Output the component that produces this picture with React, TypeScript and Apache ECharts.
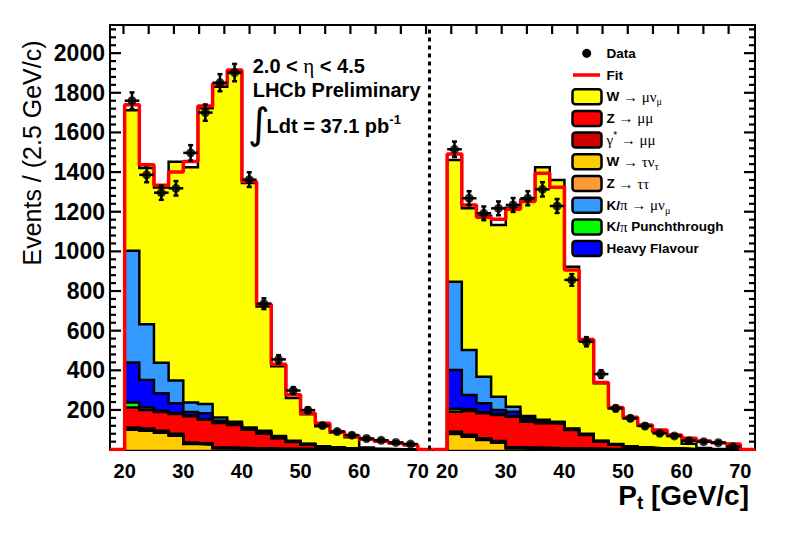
import React, { useEffect, useRef } from "react";
import * as echarts from "echarts";

// ---------------- binning / axes ----------------
const BIN_START = 20; // GeV/c
const BIN_WIDTH = 2.5; // GeV/c
const FIT_START = 17.5;
const FIT_END = 72.5;
const RIGHT_SHIFT = 55; // the right panel is drawn after the left one on a shared axis
const DIVIDER_AT = 72;
const X_MIN = 17.5;
const X_MAX = 127.5;
const Y_MAX = 2142;
const Y_STEP = 200;
const Y_MINOR_STEP = 40;
const X_TICK_LABELS = [20, 30, 40, 50, 60, 70];
const TOP_TICK_FIRST = 19.8;
const TOP_TICK_STEP = 4.3;
const TOP_TICK_COUNT = 25;

// plot frame (layout)
const GRID_LEFT = 110;
const GRID_TOP = 25;
const GRID_W = 645;
const GRID_H = 424.6;

// ---------------- left panel (stack components, bins 20..70 GeV/c) ----------------
const L_W_TAUNU = [100, 95, 85, 70, 28, 25, 5, 4, 3, 3, 2, 2, 1, 1, 1, 0, 0, 0, 0, 0];
const L_Z_TAUTAU = [6, 6, 5, 5, 4, 4, 3, 3, 2, 2, 1, 1, 1, 0, 0, 0, 0, 0, 0, 0];
const L_GAMMA_MUMU = [6, 5, 5, 5, 4, 3, 3, 2, 2, 2, 1, 1, 1, 0, 0, 0, 0, 0, 0, 0];
const L_Z_MUMU = [100, 94, 95, 100, 132, 118, 123, 115, 93, 73, 53, 34, 22, 12, 8, 5, 2, 1, 1, 0];
const L_PUNCH = [25, 12, 6, 5, 4, 4, 3, 3, 2, 2, 2, 1, 1, 1, 0, 0, 0, 0, 0, 0];
const L_HEAVY = [203, 139, 88, 49, 18, 29, 8, 5, 4, 6, 4, 3, 2, 1, 1, 1, 0, 0, 0, 0];
const L_KPI_MUNU = [563, 281, 154, 114, 48, 47, 17, 8, 6, 7, 5, 3, 2, 2, 1, 1, 1, 1, 0, 0];
const L_W_MUNU = [709, 788, 884, 1104, 1186, 1492, 1668, 1760, 1233, 627, 352, 215, 148, 101, 75, 55, 8, 2, 1, 1];
const L_FIT = [1740, 1437, 1333, 1400, 1453, 1734, 1845, 1915, 1352, 733, 430, 277, 184, 133, 90, 69, 52, 42, 32, 23];
const L_DATA = [1760, 1386, 1296, 1318, 1497, 1700, 1851, 1902, 1362, 736, 455, 298, 199, 121, 91, 73, 56, 47, 36, 28];

// ---------------- right panel ----------------
const R_W_TAUNU = [79, 65, 48, 35, 5, 4, 3, 3, 2, 2, 1, 1, 1, 0, 0, 0, 0, 0, 0, 0];
const R_Z_TAUTAU = [6, 5, 5, 4, 4, 3, 3, 2, 2, 2, 1, 1, 1, 0, 0, 0, 0, 0, 0, 0];
const R_GAMMA_MUMU = [5, 5, 4, 4, 3, 3, 3, 2, 2, 2, 1, 1, 0, 0, 0, 0, 0, 0, 0, 0];
const R_Z_MUMU = [101, 120, 126, 132, 154, 131, 124, 123, 93, 68, 37, 22, 13, 9, 6, 4, 2, 1, 1, 0];
const R_PUNCH = [15, 8, 5, 4, 3, 3, 2, 2, 2, 1, 1, 1, 0, 0, 0, 0, 0, 0, 0, 0];
const R_HEAVY = [196, 72, 46, 21, 22, 16, 10, 6, 3, 3, 2, 1, 1, 1, 0, 0, 0, 0, 0, 0];
const R_KPI_MUNU = [445, 228, 134, 67, 25, 10, 5, 3, 2, 2, 2, 1, 1, 1, 1, 1, 0, 0, 0, 0];
const R_W_MUNU = [614, 714, 812, 866, 1004, 1090, 1274, 1219, 817, 470, 290, 180, 141, 109, 85, 63, 28, 7, 2, 1];
const R_FIT = [1491, 1234, 1172, 1162, 1212, 1251, 1394, 1323, 906, 556, 338, 213, 163, 124, 99, 74, 57, 43, 35, 28];
const R_DATA = [1515, 1268, 1192, 1217, 1234, 1268, 1313, 1229, 856, 544, 381, 208, 158, 119, 82, 69, 45, 40, 35, 15];

// ---------------- legend ----------------
const LEGEND_LABELS = [
  "{b|W }{g|\u2192 \u03bc\u03bd}{sub|\u03bc}",
  "{b|Z }{g|\u2192 \u03bc\u03bc}",
  "{g|\u03b3}{sup|*}{g| \u2192 \u03bc\u03bc}",
  "{b|W }{g|\u2192 \u03c4\u03bd}{sub|\u03c4}",
  "{b|Z }{g|\u2192 \u03c4\u03c4}",
  "{b|K/}{g|\u03c0 \u2192 \u03bc\u03bd}{sub|\u03bc}",
  "{b|K/}{g|\u03c0}{b| Punchthrough}",
  "{b|Heavy Flavour}",
];

const SANS = "Liberation Sans, Arial, Helvetica, sans-serif";
const SERIF = "Liberation Serif, DejaVu Serif, serif";

// stacking order, bottom first
const COMPONENTS = [
  { color: "#ffcc00", left: L_W_TAUNU, right: R_W_TAUNU, legend: 3 },
  { color: "#ff9933", left: L_Z_TAUTAU, right: R_Z_TAUTAU, legend: 4 },
  { color: "#cc0000", left: L_GAMMA_MUMU, right: R_GAMMA_MUMU, legend: 2 },
  { color: "#ff0000", left: L_Z_MUMU, right: R_Z_MUMU, legend: 1 },
  { color: "#00ff00", left: L_PUNCH, right: R_PUNCH, legend: 6 },
  { color: "#0000ff", left: L_HEAVY, right: R_HEAVY, legend: 7 },
  { color: "#3399ff", left: L_KPI_MUNU, right: R_KPI_MUNU, legend: 5 },
  { color: "#ffff00", left: L_W_MUNU, right: R_W_MUNU, legend: 0 },
];

function cumulative(which: "left" | "right") {
  const out: number[][] = [];
  COMPONENTS.forEach((c, k) => {
    const arr = c[which].map((v: number, i: number) => v + (k > 0 ? out[k - 1][i] : 0));
    out.push(arr);
  });
  return out;
}

function histPoints(vals: number[], shift: number) {
  const pts: number[][] = [[BIN_START + shift, 0]];
  vals.forEach((v, i) => pts.push([BIN_START + BIN_WIDTH * i + shift, v]));
  const end = BIN_START + BIN_WIDTH * vals.length + shift;
  pts.push([end, vals[vals.length - 1]]);
  pts.push([end, 0]);
  return pts;
}

function fitPoints(vals: number[], shift: number) {
  const pts: number[][] = [[FIT_START + shift, 0]];
  vals.forEach((v, i) => pts.push([BIN_START + BIN_WIDTH * i + shift, v]));
  pts.push([BIN_START + BIN_WIDTH * vals.length + shift, 0]);
  pts.push([FIT_END + shift, 0]);
  return pts;
}

function dataPoints(vals: number[], shift: number) {
  return vals.map((v, i) => [BIN_START + BIN_WIDTH * (i + 0.5) + shift, v, Math.sqrt(v)]);
}

// inward frame ticks on the left, right and top edges, as small filled bars
function frameTickGraphics() {
  const px = (x: number) => GRID_LEFT + ((x - X_MIN) / (X_MAX - X_MIN)) * GRID_W;
  const py = (y: number) => GRID_TOP + GRID_H - (y / Y_MAX) * GRID_H;
  const out: any[] = [];
  const T = 2.2;
  for (let v = Y_MINOR_STEP; v <= Y_MAX; v += Y_MINOR_STEP) {
    const len = v % Y_STEP === 0 ? 11 : 6;
    const y = py(v);
    out.push({ type: "rect", z: 50, shape: { x: GRID_LEFT, y: y - T / 2, width: len, height: T }, style: { fill: "#000" } });
    out.push({ type: "rect", z: 50, shape: { x: GRID_LEFT + GRID_W - len, y: y - T / 2, width: len, height: T }, style: { fill: "#000" } });
  }
  for (let k = 0; k < TOP_TICK_COUNT; k++) {
    const x = px(TOP_TICK_FIRST + TOP_TICK_STEP * k);
    out.push({ type: "rect", z: 50, shape: { x: x - T / 2, y: GRID_TOP, width: T, height: 9 }, style: { fill: "#000" } });
  }
  return out;
}

function baseGraphic() {
  const legendRich = {
    b: { fontFamily: SANS, fontWeight: "bold", fontSize: 13.5, fill: "#000", color: "#000", lineHeight: 20 },
    g: { fontFamily: SERIF, fontSize: 15, fill: "#000", color: "#000", lineHeight: 20 },
    sub: { fontFamily: SERIF, fontSize: 10, fill: "#000", color: "#000", lineHeight: 10, verticalAlign: "bottom" },
    sup: { fontFamily: SANS, fontSize: 10, fill: "#000", color: "#000", lineHeight: 10, verticalAlign: "top" },
  };
  const LEG_X_BOX = 572.5;
  const LEG_X_TEXT = 606.5;
  const LEG_Y0 = 96.7;
  const LEG_DY = 21.7;

  const graphic: any[] = [
    { type: "circle", shape: { cx: 586.7, cy: 53.3, r: 4.5 }, style: { fill: "#000" }, z: 10 },
    {
      type: "text",
      x: LEG_X_TEXT,
      y: 53.3,
      z: 10,
      style: { text: "Data", fill: "#000", fontFamily: SANS, fontWeight: "bold", fontSize: 13.5, align: "left", verticalAlign: "middle" },
    },
    { type: "line", shape: { x1: 573, y1: 75, x2: 600, y2: 75 }, style: { stroke: "#ff0000", lineWidth: 3.5 }, z: 10 },
    {
      type: "text",
      x: LEG_X_TEXT,
      y: 75,
      z: 10,
      style: { text: "Fit", fill: "#000", fontFamily: SANS, fontWeight: "bold", fontSize: 13.5, align: "left", verticalAlign: "middle" },
    },
  ];
  COMPONENTS.forEach((c) => {
    const cy = LEG_Y0 + LEG_DY * c.legend;
    graphic.push({
      type: "rect",
      z: 10,
      shape: { x: LEG_X_BOX, y: cy - 7.5, width: 29, height: 15, r: 3 },
      style: { fill: c.color, stroke: "#000", lineWidth: 2.5 },
    });
    graphic.push({
      type: "text",
      z: 10,
      x: LEG_X_TEXT,
      y: cy,
      style: {
        text: LEGEND_LABELS[c.legend],
        rich: legendRich,
        fill: "#000",
        fontFamily: SANS,
        fontWeight: "bold",
        fontSize: 13.5,
        align: "left",
        verticalAlign: "middle",
      },
    });
  });

  const annRich = {
    b: { fontFamily: SANS, fontWeight: "bold", fontSize: 20, fill: "#000", color: "#000", lineHeight: 26 },
    g: { fontFamily: SERIF, fontSize: 21, fill: "#000", color: "#000", lineHeight: 26 },
    sup: { fontFamily: SANS, fontWeight: "bold", fontSize: 13, fill: "#000", color: "#000", lineHeight: 13, verticalAlign: "top" },
    sub: { fontFamily: SANS, fontWeight: "bold", fontSize: 19, fill: "#000", color: "#000", lineHeight: 19, verticalAlign: "bottom" },
    bx: { fontFamily: SANS, fontWeight: "bold", fontSize: 28, fill: "#000", color: "#000", lineHeight: 34 },
  };

  graphic.push(
    {
      type: "text",
      x: 252.7,
      y: 66,
      z: 10,
      style: { text: "{b|2.0 < }{g|\u03b7}{b| < 4.5}", rich: annRich, align: "left", verticalAlign: "middle", fill: "#000" },
    },
    {
      type: "text",
      x: 252.7,
      y: 90,
      z: 10,
      style: { text: "LHCb Preliminary", fill: "#000", fontFamily: SANS, fontWeight: "bold", fontSize: 20, align: "left", verticalAlign: "middle" },
    },
    {
      type: "text",
      x: 248,
      y: 123,
      z: 10,
      style: { text: "\u222b", fill: "#000", fontFamily: "DejaVu Sans", fontSize: 42, align: "left", verticalAlign: "middle" },
    },
    {
      type: "text",
      x: 266.5,
      y: 126,
      z: 10,
      style: { text: "{b|Ldt = 37.1 pb}{sup|-1}", rich: annRich, align: "left", verticalAlign: "middle", fill: "#000" },
    },
    {
      type: "text",
      x: 32,
      y: 153,
      rotation: Math.PI / 2,
      z: 10,
      style: { text: "Events / (2.5 GeV/c)", fill: "#000", fontFamily: SANS, fontSize: 25, align: "center", verticalAlign: "middle" },
    },
    {
      type: "text",
      x: 749,
      y: 495,
      z: 10,
      style: { text: "{bx|P}{sub|t}{bx| [GeV/c]}", rich: annRich, align: "right", verticalAlign: "middle", fill: "#000" },
    }
  );
  return [...graphic, ...frameTickGraphics()];
}

function buildOption() {
  const series: any[] = [];
  const panels: Array<["left" | "right", number]> = [
    ["left", 0],
    ["right", RIGHT_SHIFT],
  ];
  panels.forEach(([which, shift]) => {
    const cum = cumulative(which);
    for (let k = cum.length - 1; k >= 0; k--) {
      series.push({
        type: "line",
        step: "end",
        data: histPoints(cum[k], shift),
        symbol: "none",
        showSymbol: false,
        silent: true,
        z: 2,
        lineStyle: { color: "#000", width: 2.5, join: "miter" },
        areaStyle: { color: COMPONENTS[k].color, opacity: 1 },
      });
    }
  });
  panels.forEach(([which, shift]) => {
    series.push({
      type: "line",
      step: "end",
      data: fitPoints(which === "left" ? L_FIT : R_FIT, shift),
      symbol: "none",
      showSymbol: false,
      silent: true,
      z: 3,
      lineStyle: { color: "#ff0000", width: 3.5 },
    });
  });
  const pts = [...dataPoints(L_DATA, 0), ...dataPoints(R_DATA, RIGHT_SHIFT)];
  series.push({
    type: "custom",
    z: 4,
    silent: true,
    data: pts,
    encode: { x: 0, y: 1 },
    renderItem: (_p: any, api: any) => {
      const x = api.value(0);
      const y = api.value(1);
      const e = api.value(2);
      const l = api.coord([x - BIN_WIDTH / 2, y]);
      const r = api.coord([x + BIN_WIDTH / 2, y]);
      const t = api.coord([x, y + e]);
      const b = api.coord([x, y - e]);
      const style = { stroke: "#000", lineWidth: 2.5 };
      const cap = 2.5;
      return {
        type: "group",
        children: [
          { type: "line", shape: { x1: l[0], y1: l[1], x2: r[0], y2: r[1] }, style },
          { type: "line", shape: { x1: t[0], y1: t[1], x2: b[0], y2: b[1] }, style },
          { type: "line", shape: { x1: t[0] - cap, y1: t[1], x2: t[0] + cap, y2: t[1] }, style },
          { type: "line", shape: { x1: b[0] - cap, y1: b[1], x2: b[0] + cap, y2: b[1] }, style },
        ],
      };
    },
  });
  series.push({
    type: "scatter",
    z: 5,
    silent: true,
    data: pts.map((p) => [p[0], p[1]]),
    symbol: "circle",
    symbolSize: 9,
    itemStyle: { color: "#000" },
    markLine: {
      silent: true,
      symbol: ["none", "none"],
      label: { show: false },
      lineStyle: { color: "#000", type: [4, 4], width: 3 },
      data: [{ xAxis: DIVIDER_AT }],
    },
  });

  const bottomTicks = [...X_TICK_LABELS, ...X_TICK_LABELS.map((v) => v + RIGHT_SHIFT)];
  const lineBlack = { color: "#000", width: 2 };

  return {
    animation: false,
    backgroundColor: "#fff",
    grid: { left: GRID_LEFT, top: GRID_TOP, width: GRID_W, height: GRID_H, containLabel: false },
    xAxis: [
      {
        type: "value",
        min: X_MIN,
        max: X_MAX,
        position: "bottom",
        axisLine: { show: true, onZero: false, lineStyle: { ...lineBlack } },
        axisTick: { show: false },
        splitLine: { show: false },
        axisLabel: {
          customValues: bottomTicks,
          formatter: (v: number) => String(v > FIT_END ? v - RIGHT_SHIFT : v),
          color: "#000",
          fontFamily: SANS,
          fontWeight: "bold",
          fontSize: 20,
          margin: 11,
        },
      },
      {
        type: "value",
        min: X_MIN,
        max: X_MAX,
        position: "top",
        axisLine: { show: true, onZero: false, lineStyle: { ...lineBlack } },
        axisTick: { show: false },
        axisLabel: { show: false },
        splitLine: { show: false },
      },
    ],
    yAxis: [
      {
        type: "value",
        min: 0,
        max: Y_MAX,
        interval: Y_STEP,
        position: "left",
        axisLine: { show: true, onZero: false, lineStyle: { ...lineBlack } },
        axisTick: { show: false },
        splitLine: { show: false },
        axisLabel: {
          formatter: (v: number) => (v > 0 && v % Y_STEP === 0 ? String(v) : ""),
          color: "#000",
          fontFamily: SANS,
          fontWeight: "bold",
          fontSize: 23,
          margin: 5,
        },
      },
      {
        type: "value",
        min: 0,
        max: Y_MAX,
        interval: Y_STEP,
        position: "right",
        axisLine: { show: true, onZero: false, lineStyle: { ...lineBlack } },
        axisTick: { show: false },
        splitLine: { show: false },
        axisLabel: { show: false },
      },
    ],
    series,
    graphic: baseGraphic(),
  };
}

export default function App() {
  const ref = useRef<HTMLDivElement>(null);
  useEffect(() => {
    if (!ref.current) return;
    const chart = echarts.init(ref.current, undefined, { renderer: "svg" });
    chart.setOption(buildOption() as any);
    return () => chart.dispose();
  }, []);
  return (
    <div
      ref={ref}
      style={{ position: "fixed", left: 0, top: 0, width: 788, height: 534, background: "#fff" }}
    />
  );
}
